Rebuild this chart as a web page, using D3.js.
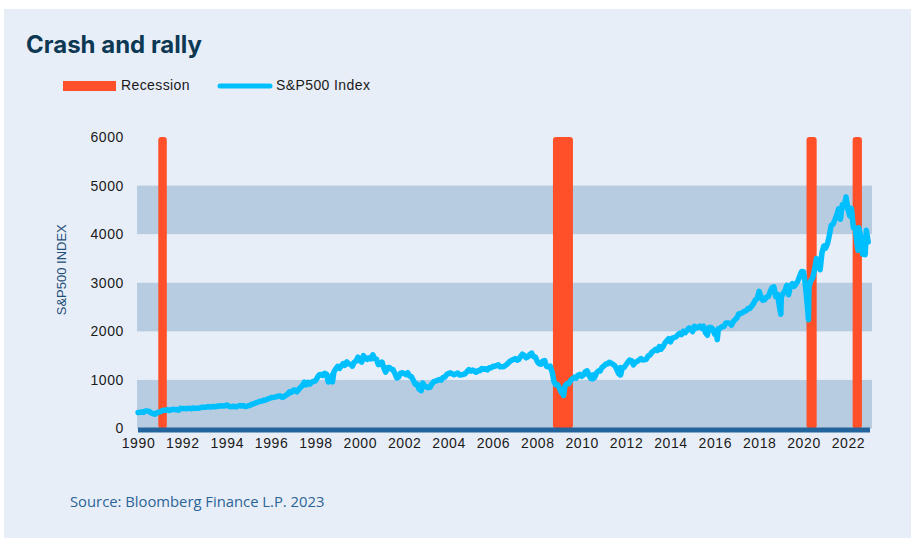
<!DOCTYPE html>
<html>
<head>
<meta charset="utf-8">
<script src="https://cdn.jsdelivr.net/npm/d3@7"></script>
<style>
  body { margin: 0; background: #ffffff; }
  svg { display: block; }
</style>
</head>
<body>
<div id="chart"></div>
<script>
// S&P500 monthly levels, Jan 1990 .. Dec 2022
const spxStart = [1990, 0];
const spxMonthly = [
  329, 332, 340, 331, 361, 358, 356, 323, 306, 304, 322, 330,
  344, 367, 375, 375, 390, 371, 388, 395, 388, 392, 375, 417,
  409, 413, 404, 415, 415, 408, 424, 414, 418, 419, 431, 436,
  439, 443, 452, 440, 450, 451, 448, 464, 459, 468, 462, 466,
  482, 467, 446, 451, 457, 444, 458, 475, 463, 472, 454, 459,
  470, 487, 501, 515, 533, 545, 562, 562, 584, 582, 605, 616,
  636, 640, 646, 654, 669, 671, 640, 652, 687, 705, 757, 741,
  786, 791, 757, 801, 848, 885, 954, 899, 947, 915, 955, 970,
  980, 1049, 1102, 1112, 1091, 1134, 1121, 957, 1017, 1099, 1164, 1229,
  1280, 1238, 1286, 1335, 1302, 1373, 1329, 1320, 1283, 1363, 1389, 1469,
  1394, 1366, 1499, 1452, 1421, 1455, 1431, 1518, 1437, 1429, 1315, 1320,
  1366, 1240, 1160, 1249, 1256, 1224, 1211, 1134, 1041, 1060, 1139, 1148,
  1130, 1107, 1147, 1077, 1067, 990, 912, 916, 815, 886, 936, 880,
  856, 841, 848, 917, 964, 975, 990, 1008, 996, 1051, 1058, 1112,
  1131, 1145, 1126, 1107, 1121, 1141, 1102, 1104, 1115, 1130, 1174, 1212,
  1181, 1204, 1181, 1157, 1192, 1191, 1234, 1220, 1229, 1207, 1249, 1248,
  1280, 1281, 1295, 1311, 1270, 1270, 1277, 1304, 1336, 1378, 1401, 1418,
  1438, 1407, 1421, 1482, 1531, 1503, 1455, 1474, 1527, 1549, 1481, 1468,
  1379, 1331, 1323, 1386, 1400, 1280, 1267, 1283, 1166, 969, 896, 903,
  826, 735, 798, 873, 919, 919, 987, 1021, 1057, 1036, 1096, 1115,
  1074, 1104, 1169, 1187, 1089, 1031, 1102, 1049, 1141, 1183, 1181, 1258,
  1286, 1327, 1326, 1364, 1345, 1321, 1292, 1219, 1131, 1253, 1247, 1258,
  1312, 1366, 1408, 1398, 1310, 1362, 1379, 1407, 1441, 1412, 1416, 1426,
  1498, 1515, 1569, 1598, 1631, 1606, 1686, 1633, 1682, 1757, 1806, 1848,
  1783, 1859, 1872, 1884, 1924, 1960, 1931, 2003, 1972, 2018, 2068, 2059,
  1995, 2105, 2068, 2086, 2107, 2063, 2104, 1972, 1920, 2079, 2080, 2044,
  1940, 1932, 2060, 2065, 2097, 2099, 2174, 2171, 2168, 2126, 2199, 2239,
  2279, 2364, 2363, 2384, 2412, 2423, 2470, 2472, 2519, 2575, 2648, 2674,
  2824, 2714, 2641, 2648, 2705, 2718, 2816, 2902, 2914, 2712, 2760, 2507,
  2704, 2784, 2834, 2946, 2752, 2942, 2980, 2926, 2977, 3038, 3141, 3231,
  3226, 2954, 2585, 2912, 3044, 3100, 3271, 3500, 3363, 3270, 3622, 3756,
  3714, 3811, 3973, 4181, 4204, 4298, 4395, 4523, 4308, 4605, 4567, 4766,
  4516, 4374, 4530, 4132, 4132, 3785, 4130, 3955, 3586, 3872, 4080, 3840,
];

// intra-month lows visible in the picture
const spxDips = [
  ['1990-10-11', 295], ['1998-10-08', 959], ['2002-10-09', 777],
  ['2009-03-09', 677], ['2010-07-02', 1022], ['2011-10-03', 1099],
  ['2016-02-11', 1829], ['2018-12-24', 2351], ['2020-03-23', 2237],
  ['2022-06-16', 3667], ['2022-10-12', 3577],
];

const recessions = [
  ['1990-12-01', '1991-04-20'],
  ['2008-09-15', '2009-08-10'],
  ['2020-02-20', '2020-08-05'],
  ['2022-03-20', '2022-08-20'],
];
const recessionTop = 6000;

const yTicks = [0, 1000, 2000, 3000, 4000, 5000, 6000];
const bands = [[0, 1000], [2000, 3000], [4000, 5000]];
const xTickYears = d3.range(1990, 2023, 2);

const width = 911;
const height = 538;
const labelFont = '"Liberation Sans", Arial, sans-serif';

const svg = d3.select('#chart').append('svg')
  .attr('width', width)
  .attr('height', height);

// panel
svg.append('rect')
  .attr('x', 4).attr('y', 9)
  .attr('width', width - 4).attr('height', height - 9)
  .attr('fill', '#e8eef8');

svg.append('text')
  .attr('x', 26).attr('y', 53)
  .attr('font-family', 'Inter, sans-serif')
  .attr('font-weight', 700)
  .attr('font-size', 24)
  .attr('fill', '#0d3854')
  .text('Crash and rally');

// legend
const legend = svg.append('g')
  .attr('font-family', labelFont)
  .attr('font-size', 14)
  .attr('letter-spacing', 0.4)
  .attr('fill', '#1a1a1a');
legend.append('rect')
  .attr('x', 63).attr('y', 81).attr('width', 53).attr('height', 10)
  .attr('fill', '#ff5029');
legend.append('text').attr('x', 121).attr('y', 90).text('Recession');
legend.append('line')
  .attr('x1', 220).attr('x2', 270).attr('y1', 86).attr('y2', 86)
  .attr('stroke', '#00bfff').attr('stroke-width', 5).attr('stroke-linecap', 'round');
legend.append('text').attr('x', 276).attr('y', 90).text('S&P500 Index');

const plot = { left: 138, right: 870, top: 137, bottom: 428.5 };

const x = d3.scaleTime()
  .domain([new Date(1990, 0, 1), new Date(2022, 11, 31)])
  .range([plot.left, plot.right]);
const y = d3.scaleLinear()
  .domain([0, 6000])
  .range([plot.bottom, plot.top]);

const g = svg.append('g');

// shaded bands
g.selectAll('rect.band')
  .data(bands)
  .join('rect')
  .attr('class', 'band')
  .attr('x', plot.left - 1)
  .attr('width', plot.right - plot.left + 3)
  .attr('y', (d) => y(d[1]))
  .attr('height', (d) => y(d[0]) - y(d[1]))
  .attr('fill', '#b7cce0');

// y axis labels
const yAxis = d3.axisLeft(y).tickValues(yTicks).tickSize(0).tickPadding(10)
  .tickFormat(d3.format('d'));
g.append('g')
  .attr('transform', `translate(${plot.left - 4},0)`)
  .call(yAxis)
  .call((s) => s.select('.domain').remove())
  .selectAll('text')
  .attr('font-family', labelFont)
  .attr('font-size', 14)
  .attr('letter-spacing', 0.6)
  .attr('fill', '#1a1a1a');

svg.append('text')
  .attr('transform', `translate(66,${(y(0) + y(6000)) / 2 - 13}) rotate(-90)`)
  .attr('text-anchor', 'middle')
  .attr('font-family', labelFont)
  .attr('font-size', 13)
  .attr('fill', '#1f4e79')
  .text('S&P500 INDEX');

// recession bars
const parse = d3.timeParse('%Y-%m-%d');
g.selectAll('rect.rec')
  .data(recessions)
  .join('rect')
  .attr('class', 'rec')
  .attr('x', (d) => x(parse(d[0])))
  .attr('width', (d) => x(parse(d[1])) - x(parse(d[0])))
  .attr('y', y(recessionTop))
  .attr('height', y(0) - y(recessionTop))
  .attr('rx', 3)
  .attr('fill', '#ff5029');

// x axis bar
g.append('rect')
  .attr('x', plot.left)
  .attr('y', plot.bottom - 1)
  .attr('width', plot.right - plot.left)
  .attr('height', 5)
  .attr('fill', '#22649b');

const xAxis = d3.axisBottom(x)
  .tickValues(xTickYears.map((yr) => new Date(yr, 0, 1)))
  .tickSize(0).tickPadding(6)
  .tickFormat(d3.timeFormat('%Y'));
g.append('g')
  .attr('transform', `translate(0,${plot.bottom + 4})`)
  .call(xAxis)
  .call((s) => s.select('.domain').remove())
  .selectAll('text')
  .attr('font-family', labelFont)
  .attr('font-size', 14)
  .attr('letter-spacing', 0.6)
  .attr('fill', '#1a1a1a');

// S&P500 line
const series = spxMonthly.map((v, i) => ({ date: new Date(spxStart[0], spxStart[1] + i, 1), value: v }))
  .concat(spxDips.map((d) => ({ date: parse(d[0]), value: d[1] })))
  .sort((a, b) => a.date - b.date);

const line = d3.line()
  .x((d) => x(d.date))
  .y((d) => y(d.value));

g.append('path')
  .datum(series)
  .attr('d', line)
  .attr('fill', 'none')
  .attr('stroke', '#00bfff')
  .attr('stroke-width', 5.5)
  .attr('stroke-linejoin', 'round')
  .attr('stroke-linecap', 'round');

svg.append('text')
  .attr('x', 70).attr('y', 507)
  .attr('font-family', '"Open Sans", sans-serif')
  .attr('font-size', 14.8)
  .attr('fill', '#2b6496')
  .text('Source: Bloomberg Finance L.P. 2023');
</script>
</body>
</html>
